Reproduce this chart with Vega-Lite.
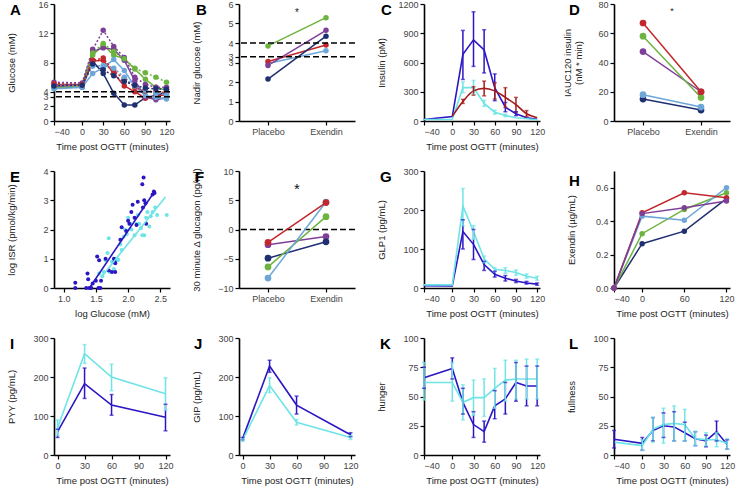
{
"$schema": "https://vega.github.io/schema/vega-lite/v6.json",
"padding": {"left": 5, "top": 0, "right": 2, "bottom": 2},
"background": "white",
"columns": 4,
"spacing": {"row": 16, "column": 16},
"resolve": {"scale": {"color": "independent", "strokeDash": "independent", "x": "independent", "y": "independent"}},
"config": {
  "view": {"stroke": null},
  "font": "Liberation Sans",
  "axis": {"grid": false, "domainColor": "#000", "domainWidth": 1.6, "tickColor": "#000", "tickSize": 4, "tickWidth": 1.2, "labelColor": "#444", "labelFont": "Liberation Sans", "labelFontSize": 9, "labelPadding": 2, "titleFont": "Liberation Sans", "titleFontSize": 9.5, "titleFontWeight": "normal", "titleColor": "#222", "titlePadding": 5},
  "axisY": {"titleX": -38},
  "title": {"font": "Liberation Sans", "fontSize": 15, "fontWeight": "bold", "anchor": "start", "frame": "group", "offset": -18, "color": "#000"}
},
"datasets": {
  "A": [
    {"t":-40,"g":4.6,"id":"navy","arm":"Placebo"},{"t":0,"g":4.6,"id":"navy","arm":"Placebo"},{"t":15,"g":8.2,"id":"navy","arm":"Placebo"},{"t":30,"g":6.5,"id":"navy","arm":"Placebo"},{"t":45,"g":3.8,"id":"navy","arm":"Placebo"},{"t":60,"g":2.2,"id":"navy","arm":"Placebo"},{"t":75,"g":2.2,"id":"navy","arm":"Placebo"},{"t":90,"g":3.2,"id":"navy","arm":"Placebo"},{"t":105,"g":3.5,"id":"navy","arm":"Placebo"},{"t":120,"g":3.9,"id":"navy","arm":"Placebo"},
    {"t":-40,"g":4.8,"id":"red","arm":"Placebo"},{"t":0,"g":4.8,"id":"red","arm":"Placebo"},{"t":15,"g":8.2,"id":"red","arm":"Placebo"},{"t":30,"g":8.3,"id":"red","arm":"Placebo"},{"t":45,"g":6.5,"id":"red","arm":"Placebo"},{"t":60,"g":4.8,"id":"red","arm":"Placebo"},{"t":75,"g":4.0,"id":"red","arm":"Placebo"},{"t":90,"g":3.1,"id":"red","arm":"Placebo"},{"t":105,"g":3.4,"id":"red","arm":"Placebo"},{"t":120,"g":3.6,"id":"red","arm":"Placebo"},
    {"t":-40,"g":4.5,"id":"green","arm":"Placebo"},{"t":0,"g":4.8,"id":"green","arm":"Placebo"},{"t":15,"g":9.0,"id":"green","arm":"Placebo"},{"t":30,"g":10.4,"id":"green","arm":"Placebo"},{"t":45,"g":9.0,"id":"green","arm":"Placebo"},{"t":60,"g":8.5,"id":"green","arm":"Placebo"},{"t":75,"g":7.1,"id":"green","arm":"Placebo"},{"t":90,"g":5.7,"id":"green","arm":"Placebo"},{"t":105,"g":4.6,"id":"green","arm":"Placebo"},{"t":120,"g":4.2,"id":"green","arm":"Placebo"},
    {"t":-40,"g":5.0,"id":"purple","arm":"Placebo"},{"t":0,"g":5.0,"id":"purple","arm":"Placebo"},{"t":15,"g":9.5,"id":"purple","arm":"Placebo"},{"t":30,"g":10.0,"id":"purple","arm":"Placebo"},{"t":45,"g":9.8,"id":"purple","arm":"Placebo"},{"t":60,"g":8.3,"id":"purple","arm":"Placebo"},{"t":75,"g":5.5,"id":"purple","arm":"Placebo"},{"t":90,"g":3.3,"id":"purple","arm":"Placebo"},{"t":105,"g":2.9,"id":"purple","arm":"Placebo"},{"t":120,"g":3.2,"id":"purple","arm":"Placebo"},
    {"t":-40,"g":4.4,"id":"lightblue","arm":"Placebo"},{"t":0,"g":4.6,"id":"lightblue","arm":"Placebo"},{"t":15,"g":6.5,"id":"lightblue","arm":"Placebo"},{"t":30,"g":7.3,"id":"lightblue","arm":"Placebo"},{"t":45,"g":8.4,"id":"lightblue","arm":"Placebo"},{"t":60,"g":6.9,"id":"lightblue","arm":"Placebo"},{"t":75,"g":4.7,"id":"lightblue","arm":"Placebo"},{"t":90,"g":3.5,"id":"lightblue","arm":"Placebo"},{"t":105,"g":3.2,"id":"lightblue","arm":"Placebo"},{"t":120,"g":3.0,"id":"lightblue","arm":"Placebo"},
    {"t":-40,"g":5.3,"id":"purple","arm":"Exendin"},{"t":0,"g":5.2,"id":"purple","arm":"Exendin"},{"t":15,"g":9.8,"id":"purple","arm":"Exendin"},{"t":30,"g":12.4,"id":"purple","arm":"Exendin"},{"t":45,"g":10.2,"id":"purple","arm":"Exendin"},{"t":60,"g":8.7,"id":"purple","arm":"Exendin"},{"t":75,"g":6.0,"id":"purple","arm":"Exendin"},{"t":90,"g":5.0,"id":"purple","arm":"Exendin"},{"t":105,"g":4.6,"id":"purple","arm":"Exendin"},{"t":120,"g":4.6,"id":"purple","arm":"Exendin"},
    {"t":-40,"g":5.0,"id":"green","arm":"Exendin"},{"t":0,"g":5.0,"id":"green","arm":"Exendin"},{"t":15,"g":9.3,"id":"green","arm":"Exendin"},{"t":30,"g":10.6,"id":"green","arm":"Exendin"},{"t":45,"g":9.5,"id":"green","arm":"Exendin"},{"t":60,"g":8.5,"id":"green","arm":"Exendin"},{"t":75,"g":7.2,"id":"green","arm":"Exendin"},{"t":90,"g":6.6,"id":"green","arm":"Exendin"},{"t":105,"g":6.0,"id":"green","arm":"Exendin"},{"t":120,"g":5.3,"id":"green","arm":"Exendin"},
    {"t":-40,"g":5.1,"id":"red","arm":"Exendin"},{"t":0,"g":5.0,"id":"red","arm":"Exendin"},{"t":15,"g":8.3,"id":"red","arm":"Exendin"},{"t":30,"g":8.6,"id":"red","arm":"Exendin"},{"t":45,"g":6.8,"id":"red","arm":"Exendin"},{"t":60,"g":5.8,"id":"red","arm":"Exendin"},{"t":75,"g":4.6,"id":"red","arm":"Exendin"},{"t":90,"g":4.1,"id":"red","arm":"Exendin"},{"t":105,"g":4.0,"id":"red","arm":"Exendin"},{"t":120,"g":3.9,"id":"red","arm":"Exendin"},
    {"t":-40,"g":4.7,"id":"lightblue","arm":"Exendin"},{"t":0,"g":4.8,"id":"lightblue","arm":"Exendin"},{"t":15,"g":7.5,"id":"lightblue","arm":"Exendin"},{"t":30,"g":7.6,"id":"lightblue","arm":"Exendin"},{"t":45,"g":7.2,"id":"lightblue","arm":"Exendin"},{"t":60,"g":6.0,"id":"lightblue","arm":"Exendin"},{"t":75,"g":4.8,"id":"lightblue","arm":"Exendin"},{"t":90,"g":4.2,"id":"lightblue","arm":"Exendin"},{"t":105,"g":3.8,"id":"lightblue","arm":"Exendin"},{"t":120,"g":3.6,"id":"lightblue","arm":"Exendin"},
    {"t":-40,"g":4.8,"id":"navy","arm":"Exendin"},{"t":0,"g":4.9,"id":"navy","arm":"Exendin"},{"t":15,"g":7.8,"id":"navy","arm":"Exendin"},{"t":30,"g":7.0,"id":"navy","arm":"Exendin"},{"t":45,"g":6.2,"id":"navy","arm":"Exendin"},{"t":60,"g":5.4,"id":"navy","arm":"Exendin"},{"t":75,"g":4.9,"id":"navy","arm":"Exendin"},{"t":90,"g":4.5,"id":"navy","arm":"Exendin"},{"t":105,"g":4.4,"id":"navy","arm":"Exendin"},{"t":120,"g":4.35,"id":"navy","arm":"Exendin"}
  ],
  "B": [
    {"id":"lightblue","arm":"Placebo","v":2.95},{"id":"lightblue","arm":"Exendin","v":3.6},
    {"id":"red","arm":"Placebo","v":3.05},{"id":"red","arm":"Exendin","v":3.9},
    {"id":"navy","arm":"Placebo","v":2.15},{"id":"navy","arm":"Exendin","v":4.35},
    {"id":"purple","arm":"Placebo","v":2.85},{"id":"purple","arm":"Exendin","v":4.65},
    {"id":"green","arm":"Placebo","v":3.85},{"id":"green","arm":"Exendin","v":5.3}
  ],
  "C": [
    {"t":-40,"v":15,"arm":"Placebo"},{"t":0,"v":45,"arm":"Placebo"},{"t":15,"v":684,"lo":426,"hi":929,"arm":"Placebo"},{"t":30,"v":832,"lo":560,"hi":1120,"arm":"Placebo"},{"t":45,"v":728,"lo":493,"hi":936,"arm":"Placebo"},{"t":60,"v":342,"lo":208,"hi":483,"arm":"Placebo"},{"t":75,"v":141,"lo":95,"hi":190,"arm":"Placebo"},{"t":90,"v":74,"lo":55,"hi":95,"arm":"Placebo"},{"t":105,"v":34,"arm":"Placebo"},{"t":120,"v":17,"arm":"Placebo"},
    {"t":-40,"v":15,"arm":"Exendin"},{"t":0,"v":15,"arm":"Exendin"},{"t":15,"v":342,"lo":290,"hi":400,"arm":"Exendin"},{"t":30,"v":342,"lo":275,"hi":416,"arm":"Exendin"},{"t":45,"v":181,"lo":150,"hi":212,"arm":"Exendin"},{"t":60,"v":90,"lo":70,"hi":110,"arm":"Exendin"},{"t":75,"v":57,"lo":45,"hi":70,"arm":"Exendin"},{"t":90,"v":34,"arm":"Exendin"},{"t":105,"v":23,"arm":"Exendin"},{"t":120,"v":13,"arm":"Exendin"},
    {"t":0,"v":47,"arm":"Fit"},{"t":15,"v":200,"lo":180,"hi":222,"arm":"Fit"},{"t":30,"v":309,"lo":265,"hi":352,"arm":"Fit"},{"t":45,"v":335,"lo":258,"hi":409,"arm":"Fit"},{"t":60,"v":309,"lo":225,"hi":393,"arm":"Fit"},{"t":75,"v":242,"lo":141,"hi":342,"arm":"Fit"},{"t":90,"v":168,"lo":91,"hi":242,"arm":"Fit"},{"t":105,"v":74,"lo":47,"hi":107,"arm":"Fit"},{"t":120,"v":34,"arm":"Fit"}
  ],
  "D": [
    {"id":"navy","arm":"Placebo","v":15},{"id":"navy","arm":"Exendin","v":7.5},
    {"id":"lightblue","arm":"Placebo","v":18},{"id":"lightblue","arm":"Exendin","v":9.5},
    {"id":"purple","arm":"Placebo","v":47.5},{"id":"purple","arm":"Exendin","v":20},
    {"id":"green","arm":"Placebo","v":58},{"id":"green","arm":"Exendin","v":16},
    {"id":"red","arm":"Placebo","v":67},{"id":"red","arm":"Exendin","v":20}
  ],
  "E": [
    {"lg":1.18,"isr":0.18,"arm":"Placebo"},{"lg":1.18,"isr":0.0,"arm":"Placebo"},{"lg":1.35,"isr":0.0,"arm":"Placebo"},{"lg":1.37,"isr":0.5,"arm":"Placebo"},{"lg":1.38,"isr":0.3,"arm":"Placebo"},{"lg":1.4,"isr":0.0,"arm":"Placebo"},{"lg":1.43,"isr":0.0,"arm":"Placebo"},{"lg":1.45,"isr":0.15,"arm":"Placebo"},{"lg":1.5,"isr":0.25,"arm":"Placebo"},{"lg":1.52,"isr":1.08,"arm":"Placebo"},{"lg":1.55,"isr":0.95,"arm":"Placebo"},{"lg":1.54,"isr":0.0,"arm":"Placebo"},{"lg":1.57,"isr":0.0,"arm":"Placebo"},{"lg":1.58,"isr":0.25,"arm":"Placebo"},{"lg":1.65,"isr":1.0,"arm":"Placebo"},{"lg":1.7,"isr":0.6,"arm":"Placebo"},{"lg":1.75,"isr":0.55,"arm":"Placebo"},{"lg":1.78,"isr":1.0,"arm":"Placebo"},{"lg":1.79,"isr":0.9,"arm":"Placebo"},{"lg":1.8,"isr":0.55,"arm":"Placebo"},{"lg":1.8,"isr":0.85,"arm":"Placebo"},{"lg":1.88,"isr":1.65,"arm":"Placebo"},{"lg":1.9,"isr":2.08,"arm":"Placebo"},{"lg":1.97,"isr":1.95,"arm":"Placebo"},{"lg":2.0,"isr":2.3,"arm":"Placebo"},{"lg":2.02,"isr":2.2,"arm":"Placebo"},{"lg":2.05,"isr":2.6,"arm":"Placebo"},{"lg":2.07,"isr":2.85,"arm":"Placebo"},{"lg":2.1,"isr":2.4,"arm":"Placebo"},{"lg":2.13,"isr":2.15,"arm":"Placebo"},{"lg":2.15,"isr":2.95,"arm":"Placebo"},{"lg":2.22,"isr":3.55,"arm":"Placebo"},{"lg":2.24,"isr":3.78,"arm":"Placebo"},{"lg":2.23,"isr":2.75,"arm":"Placebo"},{"lg":2.25,"isr":3.0,"arm":"Placebo"},{"lg":2.27,"isr":2.9,"arm":"Placebo"},{"lg":2.28,"isr":2.2,"arm":"Placebo"},{"lg":2.38,"isr":3.2,"arm":"Placebo"},{"lg":2.4,"isr":3.3,"arm":"Placebo"},{"lg":2.41,"isr":3.25,"arm":"Placebo"},
    {"lg":1.55,"isr":0.5,"arm":"Exendin"},{"lg":1.6,"isr":0.4,"arm":"Exendin"},{"lg":1.62,"isr":0.55,"arm":"Exendin"},{"lg":1.65,"isr":0.95,"arm":"Exendin"},{"lg":1.68,"isr":1.2,"arm":"Exendin"},{"lg":1.7,"isr":1.7,"arm":"Exendin"},{"lg":1.72,"isr":0.55,"arm":"Exendin"},{"lg":1.75,"isr":0.9,"arm":"Exendin"},{"lg":1.78,"isr":0.65,"arm":"Exendin"},{"lg":1.8,"isr":1.0,"arm":"Exendin"},{"lg":1.83,"isr":0.95,"arm":"Exendin"},{"lg":1.85,"isr":0.97,"arm":"Exendin"},{"lg":1.88,"isr":1.5,"arm":"Exendin"},{"lg":1.9,"isr":1.3,"arm":"Exendin"},{"lg":1.93,"isr":1.75,"arm":"Exendin"},{"lg":1.95,"isr":2.0,"arm":"Exendin"},{"lg":1.98,"isr":1.85,"arm":"Exendin"},{"lg":2.0,"isr":2.4,"arm":"Exendin"},{"lg":2.03,"isr":2.2,"arm":"Exendin"},{"lg":2.05,"isr":2.0,"arm":"Exendin"},{"lg":2.1,"isr":1.8,"arm":"Exendin"},{"lg":2.13,"isr":2.2,"arm":"Exendin"},{"lg":2.15,"isr":2.5,"arm":"Exendin"},{"lg":2.17,"isr":2.2,"arm":"Exendin"},{"lg":2.2,"isr":2.05,"arm":"Exendin"},{"lg":2.22,"isr":1.8,"arm":"Exendin"},{"lg":2.25,"isr":1.8,"arm":"Exendin"},{"lg":2.28,"isr":2.4,"arm":"Exendin"},{"lg":2.3,"isr":2.6,"arm":"Exendin"},{"lg":2.33,"isr":2.1,"arm":"Exendin"},{"lg":2.35,"isr":2.45,"arm":"Exendin"},{"lg":2.38,"isr":2.6,"arm":"Exendin"},{"lg":2.42,"isr":2.75,"arm":"Exendin"},{"lg":2.45,"isr":2.5,"arm":"Exendin"},{"lg":2.6,"isr":2.5,"arm":"Exendin"}
  ],
  "Efit": [
    {"lg":1.4,"isr":0.0,"arm":"Placebo"},{"lg":2.41,"isr":3.3,"arm":"Placebo"},
    {"lg":1.58,"isr":0.36,"arm":"Exendin"},{"lg":2.58,"isr":3.11,"arm":"Exendin"}
  ],
  "F": [
    {"id":"purple","arm":"Placebo","v":-2.6},{"id":"purple","arm":"Exendin","v":-1.2},
    {"id":"navy","arm":"Placebo","v":-4.9},{"id":"navy","arm":"Exendin","v":-2.1},
    {"id":"green","arm":"Placebo","v":-6.4},{"id":"green","arm":"Exendin","v":2.2},
    {"id":"lightblue","arm":"Placebo","v":-8.3},{"id":"lightblue","arm":"Exendin","v":4.7},
    {"id":"red","arm":"Placebo","v":-2.2},{"id":"red","arm":"Exendin","v":4.6}
  ],
  "G": [
    {"t":-40,"v":6,"arm":"Placebo"},{"t":0,"v":5,"arm":"Placebo"},{"t":15,"v":145,"lo":100,"hi":175,"arm":"Placebo"},{"t":30,"v":112,"lo":73,"hi":150,"arm":"Placebo"},{"t":45,"v":60,"lo":45,"hi":68,"arm":"Placebo"},{"t":60,"v":35,"lo":28,"hi":43,"arm":"Placebo"},{"t":75,"v":25,"lo":18,"hi":32,"arm":"Placebo"},{"t":90,"v":18,"lo":14,"hi":22,"arm":"Placebo"},{"t":105,"v":13,"lo":10,"hi":17,"arm":"Placebo"},{"t":120,"v":10,"lo":7,"hi":13,"arm":"Placebo"},
    {"t":-40,"v":8,"arm":"Exendin"},{"t":0,"v":8,"arm":"Exendin"},{"t":15,"v":210,"lo":160,"hi":255,"arm":"Exendin"},{"t":30,"v":145,"lo":125,"hi":160,"arm":"Exendin"},{"t":45,"v":75,"lo":65,"hi":82,"arm":"Exendin"},{"t":60,"v":48,"lo":42,"hi":52,"arm":"Exendin"},{"t":75,"v":45,"lo":38,"hi":52,"arm":"Exendin"},{"t":90,"v":40,"lo":33,"hi":46,"arm":"Exendin"},{"t":105,"v":30,"lo":25,"hi":36,"arm":"Exendin"},{"t":120,"v":25,"lo":20,"hi":30,"arm":"Exendin"}
  ],
  "H": [
    {"t":-40,"v":0,"id":"navy"},{"t":0,"v":0.265,"id":"navy"},{"t":60,"v":0.34,"id":"navy"},{"t":120,"v":0.535,"id":"navy"},
    {"t":-40,"v":0,"id":"green"},{"t":0,"v":0.325,"id":"green"},{"t":60,"v":0.47,"id":"green"},{"t":120,"v":0.57,"id":"green"},
    {"t":-40,"v":0,"id":"lightblue"},{"t":0,"v":0.43,"id":"lightblue"},{"t":60,"v":0.405,"id":"lightblue"},{"t":120,"v":0.6,"id":"lightblue"},
    {"t":-40,"v":0,"id":"red"},{"t":0,"v":0.45,"id":"red"},{"t":60,"v":0.57,"id":"red"},{"t":120,"v":0.54,"id":"red"},
    {"t":-40,"v":0,"id":"purple"},{"t":0,"v":0.445,"id":"purple"},{"t":60,"v":0.48,"id":"purple"},{"t":120,"v":0.52,"id":"purple"}
  ],
  "I": [
    {"t":0,"v":60,"lo":45,"hi":66,"arm":"Placebo"},{"t":30,"v":183,"lo":145,"hi":223,"arm":"Placebo"},{"t":60,"v":128,"lo":102,"hi":155,"arm":"Placebo"},{"t":120,"v":97,"lo":62,"hi":130,"arm":"Placebo"},
    {"t":0,"v":70,"lo":50,"hi":90,"arm":"Exendin"},{"t":30,"v":260,"lo":235,"hi":283,"arm":"Exendin"},{"t":60,"v":200,"lo":165,"hi":233,"arm":"Exendin"},{"t":120,"v":157,"lo":115,"hi":198,"arm":"Exendin"}
  ],
  "J": [
    {"t":0,"v":42,"lo":39,"hi":45,"arm":"Placebo"},{"t":30,"v":228,"lo":212,"hi":243,"arm":"Placebo"},{"t":60,"v":128,"lo":105,"hi":151,"arm":"Placebo"},{"t":120,"v":52,"lo":47,"hi":57,"arm":"Placebo"},
    {"t":0,"v":38,"lo":35,"hi":41,"arm":"Exendin"},{"t":30,"v":178,"lo":160,"hi":198,"arm":"Exendin"},{"t":60,"v":84,"lo":77,"hi":91,"arm":"Exendin"},{"t":120,"v":45,"lo":40,"hi":50,"arm":"Exendin"}
  ],
  "K": [
    {"t":-40,"v":66,"lo":57,"hi":75,"arm":"Placebo"},{"t":0,"v":74,"lo":65,"hi":83,"arm":"Placebo"},{"t":15,"v":45,"lo":35,"hi":57,"arm":"Placebo"},{"t":30,"v":26,"lo":15,"hi":37,"arm":"Placebo"},{"t":45,"v":20,"lo":11,"hi":29,"arm":"Placebo"},{"t":60,"v":42,"lo":31,"hi":55,"arm":"Placebo"},{"t":75,"v":48,"lo":35,"hi":62,"arm":"Placebo"},{"t":90,"v":62,"lo":46,"hi":79,"arm":"Placebo"},{"t":105,"v":59,"lo":42,"hi":76,"arm":"Placebo"},{"t":120,"v":59,"lo":42,"hi":76,"arm":"Placebo"},
    {"t":-40,"v":62,"lo":47,"hi":79,"arm":"Exendin"},{"t":0,"v":62,"lo":46,"hi":79,"arm":"Exendin"},{"t":15,"v":45,"lo":30,"hi":60,"arm":"Exendin"},{"t":30,"v":49,"lo":34,"hi":64,"arm":"Exendin"},{"t":45,"v":49,"lo":33,"hi":65,"arm":"Exendin"},{"t":60,"v":57,"lo":40,"hi":74,"arm":"Exendin"},{"t":75,"v":64,"lo":46,"hi":81,"arm":"Exendin"},{"t":90,"v":65,"lo":48,"hi":81,"arm":"Exendin"},{"t":105,"v":65,"lo":48,"hi":82,"arm":"Exendin"},{"t":120,"v":65,"lo":48,"hi":82,"arm":"Exendin"}
  ],
  "L": [
    {"t":-40,"v":13.5,"lo":6,"hi":21,"arm":"Placebo"},{"t":0,"v":10,"lo":4,"hi":15,"arm":"Placebo"},{"t":15,"v":21,"lo":12,"hi":32,"arm":"Placebo"},{"t":30,"v":25,"lo":15,"hi":36,"arm":"Placebo"},{"t":45,"v":24,"lo":12,"hi":37,"arm":"Placebo"},{"t":60,"v":19,"lo":12,"hi":28,"arm":"Placebo"},{"t":75,"v":14,"lo":8,"hi":20,"arm":"Placebo"},{"t":90,"v":12,"lo":7,"hi":17,"arm":"Placebo"},{"t":105,"v":20,"lo":12,"hi":29,"arm":"Placebo"},{"t":120,"v":9,"lo":5,"hi":13,"arm":"Placebo"},
    {"t":-40,"v":11,"arm":"Exendin"},{"t":0,"v":8,"lo":4,"hi":13,"arm":"Exendin"},{"t":15,"v":22,"lo":11,"hi":32,"arm":"Exendin"},{"t":30,"v":26,"lo":10,"hi":40,"arm":"Exendin"},{"t":45,"v":27,"lo":12,"hi":42,"arm":"Exendin"},{"t":60,"v":26,"lo":12,"hi":39,"arm":"Exendin"},{"t":75,"v":14,"lo":8,"hi":20,"arm":"Exendin"},{"t":90,"v":13,"lo":8,"hi":19,"arm":"Exendin"},{"t":105,"v":13,"lo":7,"hi":19,"arm":"Exendin"},{"t":120,"v":10,"lo":5,"hi":14,"arm":"Exendin"}
  ]
},
"concat": [
  {
    "title": {"text": "A", "dx": -44},
    "width": 116, "height": 117,
    "data": {"name": "A"},
    "encoding": {
      "x": {"field": "t", "type": "quantitative", "scale": {"domain": [-40, 125], "nice": false, "zero": false}, "axis": {"values": [-40, 0, 30, 60, 90, 120], "title": "Time post OGTT (minutes)"}},
      "y": {"field": "g", "type": "quantitative", "scale": {"domain": [0, 16], "nice": false}, "axis": {"values": [0, 2, 3.3, 4, 8, 12, 16], "labelOverlap": false, "title": "Glucose (mM)"}},
      "color": {"field": "id", "type": "nominal", "scale": {"domain": ["red", "green", "purple", "lightblue", "navy"], "range": ["#c1272d", "#6db33f", "#7e3f98", "#6ea6d8", "#1f2f70"]}, "legend": null}
    },
    "layer": [
      {"mark": {"type": "line", "strokeWidth": 1.5}, "encoding": {"strokeDash": {"field": "arm", "type": "nominal", "scale": {"domain": ["Placebo", "Exendin"], "range": [[1, 0], [2, 2]]}, "legend": null}}},
      {"mark": {"type": "circle", "size": 30, "opacity": 1}},
      {"data": {"values": [{"g": 3.3}, {"g": 4}]}, "mark": {"type": "rule", "strokeDash": [6, 3], "strokeWidth": 1.5, "color": "#000"}, "encoding": {"x": null, "color": null}}
    ]
  },
  {
    "title": {"text": "B", "dx": -43},
    "width": 116, "height": 117,
    "data": {"name": "B"},
    "encoding": {
      "x": {"field": "arm", "type": "nominal", "scale": {"type": "point", "domain": ["Placebo", "*", "Exendin"], "padding": 1.25}, "axis": {"values": ["Placebo", "Exendin"], "title": null, "labelAngle": 0}},
      "y": {"field": "v", "type": "quantitative", "scale": {"domain": [0, 6], "nice": false}, "axis": {"values": [0, 1, 2, 3, 3.3, 4, 5, 6], "labelOverlap": false, "title": "Nadir glucose (mM)"}},
      "color": {"field": "id", "type": "nominal", "scale": {"domain": ["red", "green", "purple", "lightblue", "navy"], "range": ["#c1272d", "#6db33f", "#7e3f98", "#6ea6d8", "#1f2f70"]}, "legend": null}
    },
    "layer": [
      {"mark": {"type": "line", "strokeWidth": 1.5}, "encoding": {"detail": {"field": "id"}}},
      {"mark": {"type": "circle", "size": 30, "opacity": 1}},
      {"data": {"values": [{"v": 3.3}, {"v": 4}]}, "mark": {"type": "rule", "strokeDash": [6, 3], "strokeWidth": 1.5, "color": "#000"}, "encoding": {"x": null, "color": null}},
      {"data": {"values": [{"arm": "*", "v": 5.55}]}, "mark": {"type": "text", "text": "*", "fontSize": 10, "color": "#222"}, "encoding": {"color": null}}
    ]
  },
  {
    "title": {"text": "C", "dx": -43},
    "width": 116, "height": 117,
    "data": {"name": "C"},
    "encoding": {
      "x": {"field": "t", "type": "quantitative", "scale": {"domain": [-40, 124], "nice": false, "zero": false}, "axis": {"values": [-40, 0, 30, 60, 90, 120], "title": "Time post OGTT (minutes)"}},
      "color": {"field": "arm", "type": "nominal", "scale": {"domain": ["Placebo", "Exendin", "Fit"], "range": ["#2b16c4", "#6fe4e6", "#a31c1c"]}, "legend": null}
    },
    "layer": [
      {"transform": [{"filter": "datum.arm != 'Fit'"}], "mark": {"type": "line", "strokeWidth": 1.6}, "encoding": {"y": {"field": "v", "type": "quantitative", "scale": {"domain": [0, 1200], "nice": false}, "axis": {"values": [0, 300, 600, 900, 1200], "format": "d", "title": "Insulin (pM)"}, "title": "Insulin (pM)"}}},
      {"transform": [{"filter": "datum.arm == 'Fit'"}], "mark": {"type": "line", "strokeWidth": 1.6, "interpolate": "monotone"}, "encoding": {"y": {"field": "v", "type": "quantitative", "axis": {"values": [0, 300, 600, 900, 1200], "format": "d", "title": "Insulin (pM)"}, "title": "Insulin (pM)"}}},
      {"transform": [{"filter": "isValid(datum.lo)"}], "mark": {"type": "rule", "strokeWidth": 1.5}, "encoding": {"y": {"field": "lo", "type": "quantitative", "axis": {"values": [0, 300, 600, 900, 1200], "format": "d", "title": "Insulin (pM)"}, "title": "Insulin (pM)"}, "y2": {"field": "hi"}}},
      {"transform": [{"filter": "isValid(datum.lo)"}], "mark": {"type": "tick", "orient": "horizontal", "size": 4, "thickness": 1.5}, "encoding": {"y": {"field": "lo", "type": "quantitative", "axis": {"values": [0, 300, 600, 900, 1200], "format": "d", "title": "Insulin (pM)"}, "title": "Insulin (pM)"}}},
      {"transform": [{"filter": "isValid(datum.lo)"}], "mark": {"type": "tick", "orient": "horizontal", "size": 4, "thickness": 1.5}, "encoding": {"y": {"field": "hi", "type": "quantitative", "axis": {"values": [0, 300, 600, 900, 1200], "format": "d", "title": "Insulin (pM)"}, "title": "Insulin (pM)"}}}
    ]
  },
  {
    "title": {"text": "D", "dx": -45},
    "width": 116, "height": 117,
    "data": {"name": "D"},
    "encoding": {
      "x": {"field": "arm", "type": "nominal", "scale": {"type": "point", "domain": ["Placebo", "*", "Exendin"], "padding": 1.25}, "axis": {"values": ["Placebo", "Exendin"], "title": null, "labelAngle": 0}},
      "y": {"field": "v", "type": "quantitative", "scale": {"domain": [0, 80], "nice": false}, "axis": {"values": [0, 20, 40, 60, 80], "title": ["IAUC120 insulin", "(nM * min)"], "titleX": -42}},
      "color": {"field": "id", "type": "nominal", "scale": {"domain": ["red", "green", "purple", "lightblue", "navy"], "range": ["#c1272d", "#6db33f", "#7e3f98", "#6ea6d8", "#1f2f70"]}, "legend": null}
    },
    "layer": [
      {"mark": {"type": "line", "strokeWidth": 1.5}, "encoding": {"detail": {"field": "id"}}},
      {"mark": {"type": "circle", "size": 45, "opacity": 1}},
      {"data": {"values": [{"arm": "*", "v": 75}]}, "mark": {"type": "text", "text": "*", "fontSize": 9, "color": "#222"}, "encoding": {"color": null}}
    ]
  },
  {
    "title": {"text": "E", "dx": -44},
    "width": 116, "height": 117,
    "encoding": {
      "x": {"field": "lg", "type": "quantitative", "scale": {"domain": [0.85, 2.65], "nice": false, "zero": false}, "axis": {"values": [1, 1.5, 2, 2.5], "format": ".1f", "title": "log Glucose (mM)"}},
      "y": {"field": "isr", "type": "quantitative", "scale": {"domain": [0, 4], "nice": false}, "axis": {"values": [0, 1, 2, 3, 4], "title": "log ISR (pmol/kg/min)"}},
      "color": {"field": "arm", "type": "nominal", "scale": {"domain": ["Placebo", "Exendin"], "range": ["#2b16c4", "#6fe4e6"]}, "legend": null}
    },
    "layer": [
      {"data": {"name": "E"}, "transform": [{"filter": "datum.arm == 'Exendin'"}], "mark": {"type": "circle", "size": 16, "opacity": 1}},
      {"data": {"name": "E"}, "transform": [{"filter": "datum.arm == 'Placebo'"}], "mark": {"type": "circle", "size": 16, "opacity": 1}},
      {"data": {"name": "Efit"}, "mark": {"type": "line", "strokeWidth": 1.6}}
    ]
  },
  {
    "title": {"text": "F", "dx": -44},
    "width": 116, "height": 117,
    "data": {"name": "F"},
    "encoding": {
      "x": {"field": "arm", "type": "nominal", "scale": {"type": "point", "domain": ["Placebo", "*", "Exendin"], "padding": 1.25}, "axis": {"values": ["Placebo", "Exendin"], "title": null, "labelAngle": 0}},
      "y": {"field": "v", "type": "quantitative", "scale": {"domain": [-10, 10], "nice": false, "zero": false}, "axis": {"values": [-10, -5, 0, 5, 10], "title": "30 minute Δ glucagon (pg/ml)"}},
      "color": {"field": "id", "type": "nominal", "scale": {"domain": ["red", "green", "purple", "lightblue", "navy"], "range": ["#c1272d", "#6db33f", "#7e3f98", "#6ea6d8", "#1f2f70"]}, "legend": null}
    },
    "layer": [
      {"data": {"values": [{"v": 0}]}, "mark": {"type": "rule", "strokeDash": [6, 3], "strokeWidth": 1.5, "color": "#000"}, "encoding": {"x": null, "color": null}},
      {"mark": {"type": "line", "strokeWidth": 1.5}, "encoding": {"detail": {"field": "id"}}},
      {"mark": {"type": "circle", "size": 45, "opacity": 1}},
      {"data": {"values": [{"arm": "*", "v": 7.0}]}, "mark": {"type": "text", "text": "*", "fontSize": 15, "color": "#111"}, "encoding": {"color": null}}
    ]
  },
  {
    "title": {"text": "G", "dx": -44},
    "width": 116, "height": 117,
    "data": {"name": "G"},
    "encoding": {
      "x": {"field": "t", "type": "quantitative", "scale": {"domain": [-40, 124], "nice": false, "zero": false}, "axis": {"values": [-40, 0, 30, 60, 90, 120], "title": "Time post OGTT (minutes)"}},
      "color": {"field": "arm", "type": "nominal", "scale": {"domain": ["Placebo", "Exendin"], "range": ["#2b16c4", "#6fe4e6"]}, "legend": null}
    },
    "layer": [
      {"mark": {"type": "line", "strokeWidth": 1.6}, "encoding": {"y": {"field": "v", "type": "quantitative", "scale": {"domain": [0, 300], "nice": false}, "axis": {"values": [0, 100, 200, 300], "title": "GLP1 (pg/mL)"}, "title": "GLP1 (pg/mL)"}}},
      {"transform": [{"filter": "isValid(datum.lo)"}], "mark": {"type": "rule", "strokeWidth": 1.5}, "encoding": {"y": {"field": "lo", "type": "quantitative", "axis": {"values": [0, 100, 200, 300], "title": "GLP1 (pg/mL)"}, "title": "GLP1 (pg/mL)"}, "y2": {"field": "hi"}}},
      {"transform": [{"filter": "isValid(datum.lo)"}], "mark": {"type": "tick", "orient": "horizontal", "size": 4, "thickness": 1.5}, "encoding": {"y": {"field": "lo", "type": "quantitative", "axis": {"values": [0, 100, 200, 300], "title": "GLP1 (pg/mL)"}, "title": "GLP1 (pg/mL)"}}},
      {"transform": [{"filter": "isValid(datum.lo)"}], "mark": {"type": "tick", "orient": "horizontal", "size": 4, "thickness": 1.5}, "encoding": {"y": {"field": "hi", "type": "quantitative", "axis": {"values": [0, 100, 200, 300], "title": "GLP1 (pg/mL)"}, "title": "GLP1 (pg/mL)"}}}
    ]
  },
  {
    "title": {"text": "H", "dx": -45},
    "width": 116, "height": 117,
    "data": {"name": "H"},
    "encoding": {
      "x": {"field": "t", "type": "quantitative", "scale": {"domain": [-40, 125], "nice": false, "zero": false}, "axis": {"values": [-40, 0, 60, 120], "title": "Time post OGTT (minutes)"}},
      "y": {"field": "v", "type": "quantitative", "scale": {"domain": [0, 0.7], "nice": false}, "axis": {"values": [0, 0.2, 0.4, 0.6], "format": ".1f", "title": "Exendin (µg/mL)"}},
      "color": {"field": "id", "type": "nominal", "scale": {"domain": ["red", "green", "purple", "lightblue", "navy"], "range": ["#c1272d", "#6db33f", "#7e3f98", "#6ea6d8", "#1f2f70"]}, "legend": null}
    },
    "layer": [
      {"mark": {"type": "line", "strokeWidth": 1.5}},
      {"mark": {"type": "circle", "size": 30, "opacity": 1}}
    ]
  },
  {
    "title": {"text": "I", "dx": -44},
    "width": 116, "height": 117,
    "data": {"name": "I"},
    "encoding": {
      "x": {"field": "t", "type": "quantitative", "scale": {"domain": [-4, 125], "nice": false, "zero": false}, "axis": {"values": [0, 30, 60, 90, 120], "title": "Time post OGTT (minutes)"}},
      "color": {"field": "arm", "type": "nominal", "scale": {"domain": ["Placebo", "Exendin"], "range": ["#2b16c4", "#6fe4e6"]}, "legend": null}
    },
    "layer": [
      {"mark": {"type": "line", "strokeWidth": 1.6}, "encoding": {"y": {"field": "v", "type": "quantitative", "scale": {"domain": [0, 300], "nice": false}, "axis": {"values": [0, 100, 200, 300], "title": "PYY (pg/mL)"}, "title": "PYY (pg/mL)"}}},
      {"mark": {"type": "rule", "strokeWidth": 1.5}, "encoding": {"y": {"field": "lo", "type": "quantitative", "axis": {"values": [0, 100, 200, 300], "title": "PYY (pg/mL)"}, "title": "PYY (pg/mL)"}, "y2": {"field": "hi"}}},
      {"mark": {"type": "tick", "orient": "horizontal", "size": 4, "thickness": 1.5}, "encoding": {"y": {"field": "lo", "type": "quantitative", "axis": {"values": [0, 100, 200, 300], "title": "PYY (pg/mL)"}, "title": "PYY (pg/mL)"}}},
      {"mark": {"type": "tick", "orient": "horizontal", "size": 4, "thickness": 1.5}, "encoding": {"y": {"field": "hi", "type": "quantitative", "axis": {"values": [0, 100, 200, 300], "title": "PYY (pg/mL)"}, "title": "PYY (pg/mL)"}}}
    ]
  },
  {
    "title": {"text": "J", "dx": -45},
    "width": 116, "height": 117,
    "data": {"name": "J"},
    "encoding": {
      "x": {"field": "t", "type": "quantitative", "scale": {"domain": [-4, 125], "nice": false, "zero": false}, "axis": {"values": [0, 30, 60, 90, 120], "title": "Time post OGTT (minutes)"}},
      "color": {"field": "arm", "type": "nominal", "scale": {"domain": ["Placebo", "Exendin"], "range": ["#2b16c4", "#6fe4e6"]}, "legend": null}
    },
    "layer": [
      {"mark": {"type": "line", "strokeWidth": 1.6}, "encoding": {"y": {"field": "v", "type": "quantitative", "scale": {"domain": [0, 300], "nice": false}, "axis": {"values": [0, 100, 200, 300], "title": "GIP (pg/mL)"}, "title": "GIP (pg/mL)"}}},
      {"mark": {"type": "rule", "strokeWidth": 1.5}, "encoding": {"y": {"field": "lo", "type": "quantitative", "axis": {"values": [0, 100, 200, 300], "title": "GIP (pg/mL)"}, "title": "GIP (pg/mL)"}, "y2": {"field": "hi"}}},
      {"mark": {"type": "tick", "orient": "horizontal", "size": 4, "thickness": 1.5}, "encoding": {"y": {"field": "lo", "type": "quantitative", "axis": {"values": [0, 100, 200, 300], "title": "GIP (pg/mL)"}, "title": "GIP (pg/mL)"}}},
      {"mark": {"type": "tick", "orient": "horizontal", "size": 4, "thickness": 1.5}, "encoding": {"y": {"field": "hi", "type": "quantitative", "axis": {"values": [0, 100, 200, 300], "title": "GIP (pg/mL)"}, "title": "GIP (pg/mL)"}}}
    ]
  },
  {
    "title": {"text": "K", "dx": -44},
    "width": 116, "height": 117,
    "data": {"name": "K"},
    "encoding": {
      "x": {"field": "t", "type": "quantitative", "scale": {"domain": [-40, 124], "nice": false, "zero": false}, "axis": {"values": [-40, 0, 30, 60, 90, 120], "title": "Time post OGTT (minutes)"}},
      "color": {"field": "arm", "type": "nominal", "scale": {"domain": ["Placebo", "Exendin"], "range": ["#2b16c4", "#6fe4e6"]}, "legend": null}
    },
    "layer": [
      {"mark": {"type": "line", "strokeWidth": 1.6}, "encoding": {"y": {"field": "v", "type": "quantitative", "scale": {"domain": [0, 100], "nice": false}, "axis": {"values": [0, 25, 50, 75, 100], "title": "hunger"}, "title": "hunger"}}},
      {"mark": {"type": "rule", "strokeWidth": 1.5}, "encoding": {"y": {"field": "lo", "type": "quantitative", "axis": {"values": [0, 25, 50, 75, 100], "title": "hunger"}, "title": "hunger"}, "y2": {"field": "hi"}}},
      {"mark": {"type": "tick", "orient": "horizontal", "size": 4, "thickness": 1.5}, "encoding": {"y": {"field": "lo", "type": "quantitative", "axis": {"values": [0, 25, 50, 75, 100], "title": "hunger"}, "title": "hunger"}}},
      {"mark": {"type": "tick", "orient": "horizontal", "size": 4, "thickness": 1.5}, "encoding": {"y": {"field": "hi", "type": "quantitative", "axis": {"values": [0, 25, 50, 75, 100], "title": "hunger"}, "title": "hunger"}}}
    ]
  },
  {
    "title": {"text": "L", "dx": -45},
    "width": 116, "height": 117,
    "data": {"name": "L"},
    "encoding": {
      "x": {"field": "t", "type": "quantitative", "scale": {"domain": [-40, 124], "nice": false, "zero": false}, "axis": {"values": [-40, 0, 30, 60, 90, 120], "title": "Time post OGTT (minutes)"}},
      "color": {"field": "arm", "type": "nominal", "scale": {"domain": ["Placebo", "Exendin"], "range": ["#2b16c4", "#6fe4e6"]}, "legend": null}
    },
    "layer": [
      {"mark": {"type": "line", "strokeWidth": 1.6}, "encoding": {"y": {"field": "v", "type": "quantitative", "scale": {"domain": [0, 100], "nice": false}, "axis": {"values": [0, 25, 50, 75, 100], "title": "fullness"}, "title": "fullness"}}},
      {"transform": [{"filter": "isValid(datum.lo)"}], "mark": {"type": "rule", "strokeWidth": 1.5}, "encoding": {"y": {"field": "lo", "type": "quantitative", "axis": {"values": [0, 25, 50, 75, 100], "title": "fullness"}, "title": "fullness"}, "y2": {"field": "hi"}}},
      {"transform": [{"filter": "isValid(datum.lo)"}], "mark": {"type": "tick", "orient": "horizontal", "size": 4, "thickness": 1.5}, "encoding": {"y": {"field": "lo", "type": "quantitative", "axis": {"values": [0, 25, 50, 75, 100], "title": "fullness"}, "title": "fullness"}}},
      {"transform": [{"filter": "isValid(datum.lo)"}], "mark": {"type": "tick", "orient": "horizontal", "size": 4, "thickness": 1.5}, "encoding": {"y": {"field": "hi", "type": "quantitative", "axis": {"values": [0, 25, 50, 75, 100], "title": "fullness"}, "title": "fullness"}}}
    ]
  }
]
}
